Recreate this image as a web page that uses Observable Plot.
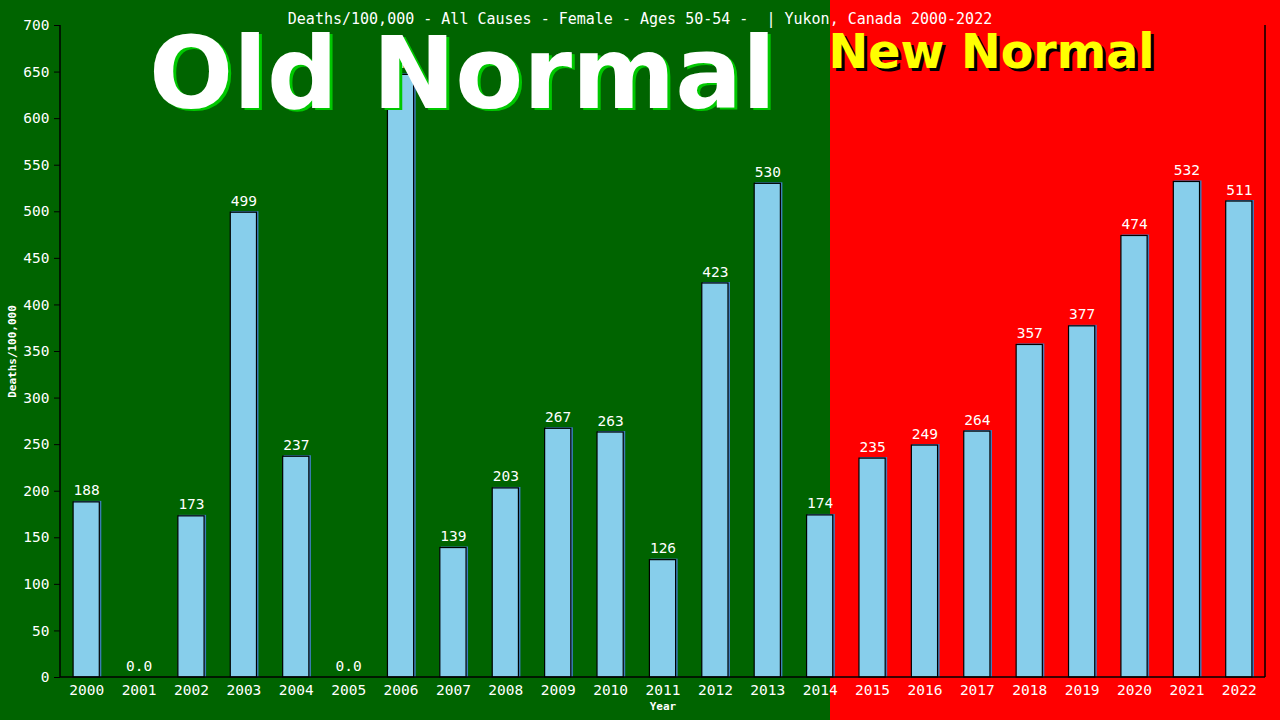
<!DOCTYPE html>
<html>
<head>
<meta charset="utf-8">
<script src="https://cdn.jsdelivr.net/npm/d3@7"></script>
<script src="https://cdn.jsdelivr.net/npm/@observablehq/plot@0.6"></script>
<style>
html, body { margin: 0; padding: 0; background: #006400; overflow: hidden; }
</style>
</head>
<body>
<div id="chart"></div>
<script>
const years = ["2000","2001","2002","2003","2004","2005","2006","2007","2008","2009","2010","2011","2012","2013","2014","2015","2016","2017","2018","2019","2020","2021","2022"];
const deathRates = [188, 0, 173, 499, 237, 0, 647, 139, 203, 267, 263, 126, 423, 530, 174, 235, 249, 264, 357, 377, 474, 532, 511];
const yTicks = [0, 50, 100, 150, 200, 250, 300, 350, 400, 450, 500, 550, 600, 650, 700];
const titleText = "Deaths/100,000 - All Causes - Female - Ages 50-54 -  | Yukon, Canada 2000-2022";
const yLabel = "Deaths/100,000";
const xLabel = "Year";
const oldLabel = "Old Normal";
const newLabel = "New Normal";

const data = years.map((y, i) => ({
  year: y,
  value: deathRates[i],
  label: deathRates[i] === 0 ? "0.0" : String(Math.round(deathRates[i]))
}));

const frameLines = (index, scales, values, dim) => {
  const {width, height, marginLeft, marginRight, marginTop, marginBottom} = dim;
  const g = d3.create("svg:g").attr("stroke", "black").attr("stroke-width", 1.5);
  const L = marginLeft, R = width - marginRight, T = marginTop, B = height - marginBottom;
  g.append("line").attr("x1", L).attr("x2", L).attr("y1", T).attr("y2", B);
  g.append("line").attr("x1", L).attr("x2", R).attr("y1", B).attr("y2", B);
  g.append("line").attr("x1", R).attr("x2", R).attr("y1", T).attr("y2", B);
  return g.node();
};

const chart = Plot.plot({
  width: 1280,
  height: 720,
  marginLeft: 60,
  marginRight: 15,
  marginTop: 25,
  marginBottom: 43,
  style: {
    background: "linear-gradient(to right, #006400 0px, #006400 830px, #ff0000 830px, #ff0000 100%)",
    fontFamily: "'DejaVu Sans Mono', monospace",
    fontSize: "14.5px",
    color: "white",
    overflow: "visible"
  },
  x: {domain: years, paddingInner: 0.5, paddingOuter: 0.25, round: false, axis: null, label: null},
  y: {domain: [0, 700], axis: null, label: null},
  marks: [
    Plot.barY(data, {x: "year", y: "value", fill: "#3f7fc0", stroke: "#3f7fc0", strokeWidth: 1, dx: 1.5, dy: -0.5}),
    Plot.barY(data.filter(d => d.value > 0), {x: "year", y: "value", fill: "#87ceeb", stroke: "black", strokeWidth: 1.2}),
    Plot.text(data, {x: "year", y: "value", text: "label", dy: -7, lineAnchor: "bottom", fill: "white"}),
    Plot.axisY({ticks: yTicks, tickSize: 6, tickFormat: () => "", color: "black", label: null}),
    Plot.axisY({ticks: yTicks, tickSize: 0, tickPadding: 11, color: "white", label: null}),
    Plot.axisX({tickSize: 0, tickPadding: 7, color: "white", label: null}),
    frameLines,
    Plot.text([yLabel], {frameAnchor: "left", textAnchor: "middle", dx: -48, rotate: -90, fill: "white", fontWeight: "bold", fontSize: 11}),
    Plot.text([xLabel], {frameAnchor: "bottom", dy: 32, fill: "white", fontWeight: "bold", fontSize: 11}),
    Plot.text([titleText], {frameAnchor: "top", dx: -23, dy: -12, fill: "white", fontSize: 15}),
    Plot.text([oldLabel], {frameAnchor: "top-left", dx: 405, dy: 84, textAnchor: "middle", lineAnchor: "bottom", fill: "#00c800", fontFamily: "'DejaVu Sans', sans-serif", fontWeight: "bold", fontSize: 99}),
    Plot.text([oldLabel], {frameAnchor: "top-left", dx: 402, dy: 82, textAnchor: "middle", lineAnchor: "bottom", fill: "white", fontFamily: "'DejaVu Sans', sans-serif", fontWeight: "bold", fontSize: 99}),
    Plot.text([newLabel], {frameAnchor: "top-left", dx: 771, dy: 45, textAnchor: "start", lineAnchor: "bottom", fill: "black", fontFamily: "'DejaVu Sans', sans-serif", fontWeight: "bold", fontSize: 47.5}),
    Plot.text([newLabel], {frameAnchor: "top-left", dx: 768, dy: 42, textAnchor: "start", lineAnchor: "bottom", fill: "#ffff00", fontFamily: "'DejaVu Sans', sans-serif", fontWeight: "bold", fontSize: 47.5})
  ]
});

document.getElementById("chart").appendChild(chart);
</script>
</body>
</html>
